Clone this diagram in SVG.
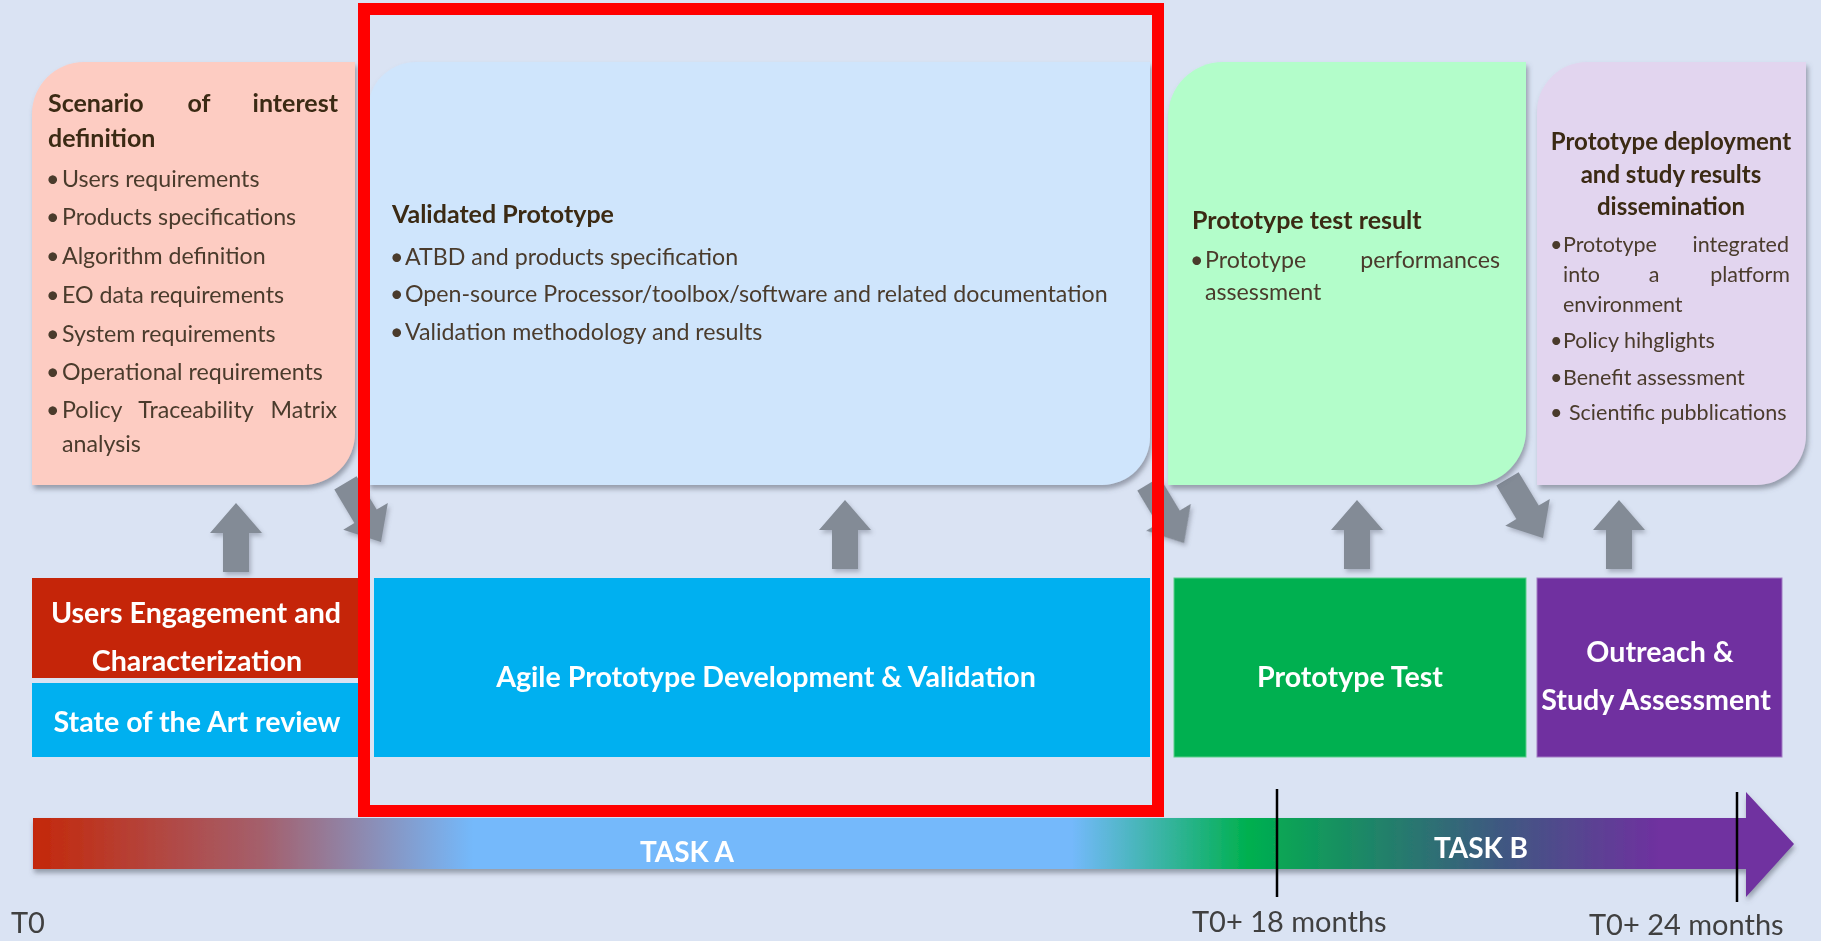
<svg xmlns="http://www.w3.org/2000/svg" xmlns:xlink="http://www.w3.org/1999/xlink" width="1821" height="941" viewBox="0 0 1821 941">
  <defs>
    <style>
      text{font-family:Lato,Carlito,"Liberation Sans",sans-serif}
      .h{font-weight:700;font-size:25px;fill:#3b2a14}
      .b{font-size:23.2px;fill:#4a3b2c}
      .hs{font-weight:700;font-size:24px;fill:#3b2a14}
      .bs{font-size:21.5px;fill:#4a3b2c}
      .w{font-weight:700;font-size:28.6px;fill:#ffffff;text-anchor:middle}
      .task{font-weight:700;font-size:28px;fill:#ffffff;text-anchor:middle}
      .t{font-size:29px;fill:#404040}
      .card{filter:url(#cardShadow)}
      .arrow{fill:#838b96;filter:url(#arrowShadow)}
    </style>
    <filter id="cardShadow" x="-5%" y="-5%" width="112%" height="115%">
      <feDropShadow dx="2" dy="4" stdDeviation="2.5" flood-color="#5b6270" flood-opacity="0.55"/>
    </filter>
    <filter id="arrowShadow" x="-30%" y="-30%" width="160%" height="160%">
      <feDropShadow dx="2" dy="3" stdDeviation="2" flood-color="#6a7280" flood-opacity="0.45"/>
    </filter>
    <filter id="barShadow" x="-2%" y="-20%" width="104%" height="150%">
      <feDropShadow dx="1" dy="4" stdDeviation="2.5" flood-color="#4d5563" flood-opacity="0.5"/>
    </filter>
    <linearGradient id="timeline" gradientUnits="userSpaceOnUse" x1="33" y1="0" x2="1794" y2="0">
      <stop offset="0" stop-color="#c4280a"/>
      <stop offset="0.13" stop-color="#a45f6c"/>
      <stop offset="0.25" stop-color="#74b9fb"/>
      <stop offset="0.59" stop-color="#74b9fb"/>
      <stop offset="0.69" stop-color="#00b04f"/>
      <stop offset="0.83" stop-color="#3d5a80"/>
      <stop offset="0.925" stop-color="#7030a0"/>
      <stop offset="1" stop-color="#7030a0"/>
    </linearGradient>
    <!-- block arrow pointing up, tip at the origin -->
    <path id="blockArrow" d="M0,0 L26,30 L13,30 L13,69 L-13,69 L-13,30 L-26,30 Z"/>
  </defs>

  <rect width="1821" height="941" fill="#dae3f3"/>

  <!-- connectors: block arrows between phases and outputs -->
  <g id="connectors" class="arrow">
    <use xlink:href="#blockArrow" transform="translate(236,503)"/>
    <use xlink:href="#blockArrow" transform="translate(845,500)"/>
    <use xlink:href="#blockArrow" transform="translate(1357,500)"/>
    <use xlink:href="#blockArrow" transform="translate(1619,500)"/>
    <use xlink:href="#blockArrow" transform="translate(381,542) rotate(149)"/>
    <use xlink:href="#blockArrow" transform="translate(1184,543) rotate(149)"/>
    <use xlink:href="#blockArrow" transform="translate(1543,538) rotate(149)"/>
  </g>

  <!-- output cards -->
  <g id="scenario-card">
    <path class="card" d="M84,62 H355 V433 A52,52 0 0 1 303,485 H32 V114 A52,52 0 0 1 84,62 Z" fill="#fdccc2"/>
    <text class="h" x="48" y="112">Scenario</text>
    <text class="h" x="199" y="112" text-anchor="middle">of</text>
    <text class="h" x="338" y="112" text-anchor="end">interest</text>
    <text class="h" x="48" y="147">definition</text>
    <text class="b" y="187"><tspan x="46">•</tspan><tspan x="62">Users requirements</tspan></text>
    <text class="b" y="225"><tspan x="46">•</tspan><tspan x="62">Products specifications</tspan></text>
    <text class="b" y="264"><tspan x="46">•</tspan><tspan x="62">Algorithm definition</tspan></text>
    <text class="b" y="303"><tspan x="46">•</tspan><tspan x="62">EO data requirements</tspan></text>
    <text class="b" y="342"><tspan x="46">•</tspan><tspan x="62">System requirements</tspan></text>
    <text class="b" y="380"><tspan x="46">•</tspan><tspan x="62">Operational requirements</tspan></text>
    <text class="b" y="418"><tspan x="46">•</tspan><tspan x="62">Policy</tspan></text>
    <text class="b" x="196" y="418" text-anchor="middle">Traceability</text>
    <text class="b" x="337" y="418" text-anchor="end">Matrix</text>
    <text class="b" x="62" y="452">analysis</text>
  </g>

  <g id="validated-card">
    <path class="card" d="M416,62 H1150 V437 A48,48 0 0 1 1102,485 H368 V110 A48,48 0 0 1 416,62 Z" fill="#cfe5fc"/>
    <text class="h" x="392" y="223">Validated Prototype</text>
    <text class="b" y="265"><tspan x="390">•</tspan><tspan x="405">ATBD and products specification</tspan></text>
    <text class="b" y="302"><tspan x="390">•</tspan><tspan x="405">Open-source Processor/toolbox/software and related documentation</tspan></text>
    <text class="b" y="340"><tspan x="390">•</tspan><tspan x="405">Validation methodology and results</tspan></text>
  </g>

  <g id="test-result-card">
    <path class="card" d="M1223,62 H1526 V430 A55,55 0 0 1 1471,485 H1168 V117 A55,55 0 0 1 1223,62 Z" fill="#b3fdca"/>
    <text class="h" x="1192" y="229">Prototype test result</text>
    <text class="b" y="268"><tspan x="1190">•</tspan><tspan x="1205">Prototype</tspan></text>
    <text class="b" x="1500" y="268" text-anchor="end">performances</text>
    <text class="b" x="1205" y="300">assessment</text>
  </g>

  <g id="deployment-card">
    <path class="card" d="M1587,62 H1806 V435 A50,50 0 0 1 1756,485 H1537 V112 A50,50 0 0 1 1587,62 Z" fill="#e2d5ef"/>
    <text class="hs" x="1671" y="150" text-anchor="middle">Prototype deployment</text>
    <text class="hs" x="1671" y="183" text-anchor="middle">and study results</text>
    <text class="hs" x="1671" y="215" text-anchor="middle">dissemination</text>
    <text class="bs" y="252"><tspan x="1550">•</tspan><tspan x="1563">Prototype</tspan></text>
    <text class="bs" x="1789" y="252" text-anchor="end">integrated</text>
    <text class="bs" x="1563" y="282">into</text>
    <text class="bs" x="1654" y="282" text-anchor="middle">a</text>
    <text class="bs" x="1790" y="282" text-anchor="end">platform</text>
    <text class="bs" x="1563" y="312">environment</text>
    <text class="bs" y="348"><tspan x="1550">•</tspan><tspan x="1563">Policy hihglights</tspan></text>
    <text class="bs" y="385"><tspan x="1550">•</tspan><tspan x="1563">Benefit assessment</tspan></text>
    <text class="bs" y="420"><tspan x="1550">•</tspan><tspan x="1569">Scientific pubblications</tspan></text>
  </g>

  <!-- activity blocks -->
  <g id="users-engagement">
    <rect x="32" y="578" width="330" height="100" fill="#c52509"/>
    <text class="w" x="196" y="623">Users Engagement and</text>
    <text class="w" x="197" y="671">Characterization</text>
  </g>
  <g id="state-of-art">
    <rect x="32" y="683" width="330" height="74" fill="#00b0f0"/>
    <text class="w" x="197" y="732">State of the Art review</text>
  </g>
  <g id="agile-development">
    <rect x="374" y="578" width="776" height="179" fill="#00b0f0"/>
    <text class="w" x="766" y="687">Agile Prototype Development &amp; Validation</text>
  </g>
  <g id="prototype-test">
    <rect x="1174" y="578" width="352" height="179" fill="#00b050" stroke="#5ccf8c" stroke-width="1"/>
    <text class="w" x="1350" y="687">Prototype Test</text>
  </g>
  <g id="outreach">
    <rect x="1537" y="578" width="245" height="179" fill="#7030a0" stroke="#a27cc4" stroke-width="1"/>
    <text class="w" x="1660" y="662">Outreach &amp;</text>
    <text class="w" x="1656" y="710">Study Assessment</text>
  </g>

  <!-- timeline -->
  <g id="timeline-bar">
    <path d="M33,818 H1746 V792 L1794,844 L1746,897 V869 H33 Z" fill="url(#timeline)" filter="url(#barShadow)"/>
    <text class="task" x="687" y="862">TASK A</text>
    <text class="task" x="1481" y="858">TASK B</text>
    <line x1="1277" y1="789" x2="1277" y2="897" stroke="#000" stroke-width="2.5"/>
    <line x1="1737" y1="792" x2="1737" y2="902" stroke="#000" stroke-width="2.5"/>
    <text class="t" x="11" y="933">T0</text>
    <text class="t" x="1192" y="932">T0+ 18 months</text>
    <text class="t" x="1589" y="935">T0+ 24 months</text>
  </g>

  <!-- highlight frame -->
  <rect id="highlight" x="364" y="9" width="794" height="802" fill="none" stroke="#ff0000" stroke-width="12"/>
</svg>
